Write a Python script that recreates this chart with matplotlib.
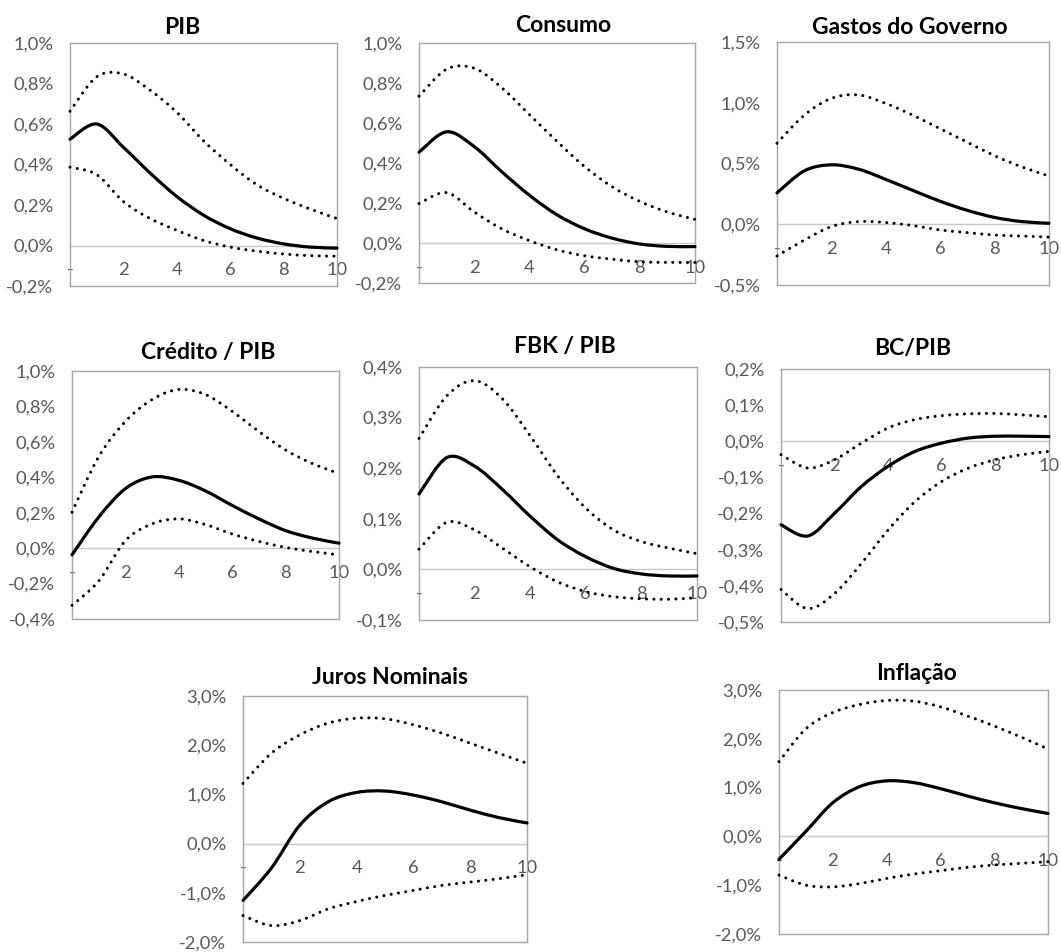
import matplotlib
matplotlib.use('Agg')
import matplotlib.pyplot as plt
from matplotlib.path import Path
from matplotlib.patches import PathPatch
import numpy as np

plt.rcParams['font.family'] = ['Lato', 'DejaVu Sans']

# trimestres
horizonte = np.arange(11)

# respostas em % (linha central, banda superior, banda inferior)
pib = [0.525, 0.60, 0.485, 0.358, 0.242, 0.15, 0.083, 0.037, 0.008, -0.008, -0.013]
pib_sup = [0.663, 0.833, 0.847, 0.767, 0.658, 0.517, 0.40, 0.30, 0.233, 0.18, 0.133]
pib_inf = [0.387, 0.35, 0.217, 0.133, 0.075, 0.025, -0.008, -0.028, -0.042, -0.05, -0.053]

cons = [0.454, 0.556, 0.482, 0.356, 0.239, 0.141, 0.071, 0.024, -0.005, -0.017, -0.018]
cons_sup = [0.734, 0.869, 0.874, 0.776, 0.642, 0.508, 0.382, 0.281, 0.208, 0.155, 0.118]
cons_inf = [0.197, 0.252, 0.155, 0.071, 0.012, -0.034, -0.064, -0.081, -0.094, -0.097, -0.097]

gov = [0.258, 0.439, 0.489, 0.453, 0.369, 0.278, 0.189, 0.114, 0.056, 0.022, 0.008]
gov_sup = [0.667, 0.897, 1.036, 1.064, 0.994, 0.897, 0.786, 0.675, 0.564, 0.472, 0.397]
gov_inf = [-0.261, -0.131, -0.019, 0.022, 0.014, -0.011, -0.047, -0.069, -0.089, -0.097, -0.106]

cred = [-0.038, 0.175, 0.336, 0.402, 0.383, 0.323, 0.241, 0.165, 0.099, 0.057, 0.028]
cred_sup = [0.203, 0.516, 0.715, 0.839, 0.896, 0.867, 0.772, 0.658, 0.554, 0.478, 0.421]
cred_inf = [-0.323, -0.186, 0.042, 0.137, 0.165, 0.133, 0.080, 0.038, 0.004, -0.019, -0.038]

fbk = [0.149, 0.221, 0.204, 0.158, 0.105, 0.058, 0.025, 0.002, -0.009, -0.013, -0.013]
fbk_sup = [0.259, 0.343, 0.373, 0.337, 0.264, 0.184, 0.121, 0.078, 0.055, 0.042, 0.031]
fbk_inf = [0.040, 0.093, 0.078, 0.042, 0.005, -0.025, -0.044, -0.054, -0.058, -0.059, -0.056]

bc = [-0.231, -0.262, -0.199, -0.125, -0.069, -0.028, -0.005, 0.009, 0.014, 0.014, 0.013]
bc_sup = [-0.037, -0.074, -0.051, -0.005, 0.037, 0.060, 0.071, 0.076, 0.077, 0.073, 0.068]
bc_inf = [-0.41, -0.463, -0.421, -0.338, -0.245, -0.167, -0.111, -0.074, -0.051, -0.037, -0.028]

juros = [-1.156, -0.497, 0.374, 0.85, 1.04, 1.068, 0.986, 0.85, 0.68, 0.53, 0.42]
juros_sup = [1.224, 1.837, 2.21, 2.449, 2.55, 2.537, 2.415, 2.245, 2.04, 1.837, 1.633]
juros_inf = [-1.463, -1.667, -1.565, -1.327, -1.177, -1.054, -0.952, -0.85, -0.782, -0.714, -0.633]

infl = [-0.469, 0.103, 0.69, 1.02, 1.138, 1.103, 0.979, 0.828, 0.69, 0.572, 0.469]
infl_sup = [1.531, 2.207, 2.538, 2.703, 2.786, 2.772, 2.655, 2.469, 2.262, 2.034, 1.793]
infl_inf = [-0.793, -1.0, -1.034, -0.966, -0.862, -0.772, -0.703, -0.634, -0.586, -0.552, -0.517]

titulos = ['PIB', 'Consumo', 'Gastos do Governo', 'Crédito / PIB', 'FBK / PIB',
           'BC/PIB', 'Juros Nominais', 'Inflação']
series = [(pib, pib_sup, pib_inf), (cons, cons_sup, cons_inf), (gov, gov_sup, gov_inf),
          (cred, cred_sup, cred_inf), (fbk, fbk_sup, fbk_inf), (bc, bc_sup, bc_inf),
          (juros, juros_sup, juros_inf), (infl, infl_sup, infl_inf)]
yticks = [np.arange(-0.2, 1.01, 0.2), np.arange(-0.2, 1.01, 0.2), np.arange(-0.5, 1.51, 0.5),
          np.arange(-0.4, 1.01, 0.2), np.arange(-0.1, 0.41, 0.1), np.arange(-0.5, 0.21, 0.1),
          np.arange(-2, 3.1, 1), np.arange(-2, 3.1, 1)]
xticks = [0, 2, 4, 6, 8, 10]
xlabels = ['-', '2', '4', '6', '8', '10']

# caixas dos graficos em pixels: esquerda, direita, topo, base
caixas = [(70, 337, 43, 286), (419, 695, 43, 283), (777, 1049, 42, 285),
          (72, 339, 371, 619), (419, 697, 367, 620), (781, 1049, 369, 622),
          (243, 527, 696, 942), (779, 1048, 690, 934)]
pos_titulo = [(182, 27), (563, 26), (910, 28), (208, 352), (565, 347), (913, 348),
              (390, 677), (917, 673)]

W, H = 1061, 952
CINZA = '#595959'


def suave(x, y):
    # curva suavizada estilo Excel (Bezier pelos pontos)
    x = np.asarray(x, float)
    y = np.asarray(y, float)
    p = np.column_stack([x, y])
    verts = [p[0]]
    codes = [Path.MOVETO]
    n = len(p)
    for i in range(n - 1):
        p0 = p[i - 1] if i > 0 else p[i]
        p3 = p[i + 2] if i + 2 < n else p[i + 1]
        c1 = p[i] + (p[i + 1] - p0) / 6
        c2 = p[i + 1] - (p3 - p[i]) / 6
        verts += [c1, c2, p[i + 1]]
        codes += [Path.CURVE4] * 3
    return Path(verts, codes)


def fmt(v):
    return f'{v:.1f}'.replace('.', ',').replace('-0,0', '0,0') + '%'


fig = plt.figure(figsize=(W / 100, H / 100), dpi=100)

for k in range(8):
    l, r, t, b = caixas[k]
    ax = fig.add_axes([l / W, 1 - b / H, (r - l) / W, (b - t) / H])
    yt = yticks[k]
    ax.set_xlim(0, 10)
    ax.set_ylim(yt[0], yt[-1])
    ax.set_yticks(yt)
    ax.set_yticklabels([fmt(v) for v in yt])
    ax.tick_params(axis='y', length=0, pad=12, labelsize=13.2, labelcolor=CINZA)
    ax.tick_params(axis='x', bottom=False, labelbottom=False)
    for s in ax.spines.values():
        s.set_color('#a6a6a6')
        s.set_linewidth(1.0)
    ax.axhline(0, color='#c8c8c8', lw=1.0, zorder=1)

    sec = ax.secondary_xaxis(0, transform=ax.transData)
    sec.set_xticks(xticks)
    sec.set_xticklabels(xlabels)
    sec.spines['bottom'].set_visible(False)
    sec.tick_params(length=0, pad=12, labelsize=13.2, labelcolor=CINZA)

    centro, sup, inf = series[k]
    ax.add_patch(PathPatch(suave(horizonte, centro), fill=False, color='black', lw=2.3,
                           capstyle='round', joinstyle='round', clip_on=False, zorder=3))
    for banda in (sup, inf):
        ax.add_patch(PathPatch(suave(horizonte, banda), fill=False, color='black', lw=2.2,
                               linestyle=(0, (0.01, 2.4)), capstyle='round',
                               clip_on=False, zorder=3))

    tx, ty = pos_titulo[k]
    fig.text(tx / W, 1 - ty / H, titulos[k], ha='center', va='center',
             fontsize=16.5, fontweight='bold', color='black')

fig.savefig('out.png', dpi=100)
